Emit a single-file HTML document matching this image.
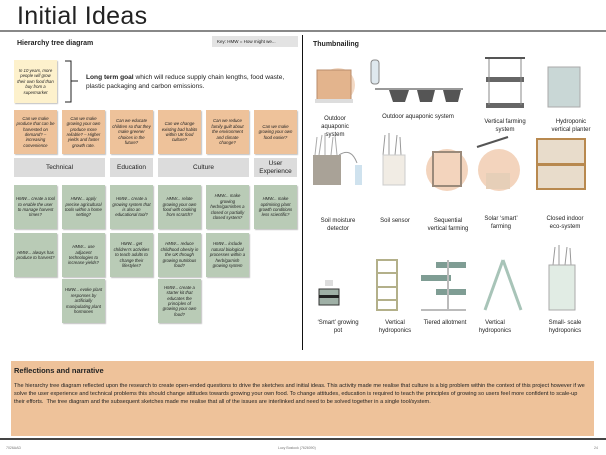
<!DOCTYPE html>
<html><head><meta charset="utf-8"><style>
*{margin:0;padding:0;box-sizing:border-box}
body{width:606px;height:455px;background:#fff;position:relative;overflow:hidden;font-family:"Liberation Sans",sans-serif;color:#222}
.a{position:absolute}
.n{position:absolute;width:43px;height:44px;font-size:4.3px;line-height:5.4px;font-style:italic;text-align:center;display:flex;align-items:center;justify-content:center;padding:2px;box-shadow:1px 1px 1px rgba(0,0,0,.25)}
.o{background:#eec29a}
.g{background:#b9cbb6}
.c{position:absolute;top:158px;height:19px;background:#dcdcdc;font-size:6.5px;display:flex;align-items:center;justify-content:center;text-align:center;line-height:8px}
.l{position:absolute;font-size:6px;text-align:center;line-height:8px;width:70px}
</style></head><body>
<div class="a" style="left:17px;top:2px;font-size:25px;letter-spacing:.3px">Initial Ideas</div>
<div class="a" style="left:0;top:30px;width:606px;height:1.5px;background:#888"></div>
<div class="a" style="left:302px;top:35px;width:1.2px;height:315px;background:#111"></div>
<div class="a" style="left:17px;top:40px;font-size:7px;font-weight:bold">Hierarchy tree diagram</div>
<div class="a" style="left:212px;top:36px;width:86px;height:11px;background:#e3e3e3;font-size:4.5px;line-height:11px;padding-left:5px">Key: HMW = How might we...</div>
<div class="n" style="left:14px;top:60px;height:43px;background:#fdf1cc">In 10 years, more people will grow their own food than buy from a supermarket</div>
<svg class="a" style="left:62px;top:60px" width="22" height="45"><path d="M3 1 H9 V42 H3 M9 21 H16" fill="none" stroke="#222" stroke-width="1"/></svg>
<div class="a" style="left:86px;top:73px;font-size:6.6px;line-height:9px;width:210px"><b>Long term goal</b> which will reduce supply chain lengths, food waste, plastic packaging and carbon emissions.</div>

<div class="n o" style="left:14px;top:110px">Can we make produce that can be harvested on demand? – increasing convenience</div>
<div class="n o" style="left:62px;top:110px">Can we make growing your own produce more reliable? – Higher yields and faster growth rate.</div>
<div class="n o" style="left:110px;top:110px">Can we educate children so that they make greener choices in the future?</div>
<div class="n o" style="left:158px;top:110px">Can we change existing bad habits within UK food culture?</div>
<div class="n o" style="left:206px;top:110px">Can we reduce family guilt about the environment and climate change?</div>
<div class="n o" style="left:254px;top:110px">Can we make growing your own food easier?</div>

<div class="c" style="left:14px;width:91px">Technical</div>
<div class="c" style="left:110px;width:43px">Education</div>
<div class="c" style="left:158px;width:91px">Culture</div>
<div class="c" style="left:254px;width:43px">User Experience</div>

<div class="n g" style="left:14px;top:185px">HMW... create a tool to enable the user to manage harvest times?</div>
<div class="n g" style="left:62px;top:185px">HMW... apply precise agricultural tools within a home setting?</div>
<div class="n g" style="left:110px;top:185px">HMW... create a growing system that is also an educational tool?</div>
<div class="n g" style="left:158px;top:185px">HMW... relate growing your own food with cooking from scratch?</div>
<div class="n g" style="left:206px;top:185px">HMW... make growing herbs/garnishes a closed or partially closed system?</div>
<div class="n g" style="left:254px;top:185px">HMW... make optimising plant growth conditions less scientific?</div>

<div class="n g" style="left:14px;top:233px">HMW... always has produce to harvest?</div>
<div class="n g" style="left:62px;top:233px">HMW... use adjacent technologies to increase yields?</div>
<div class="n g" style="left:110px;top:233px">HMW... get children's activities to teach adults to change their lifestyles?</div>
<div class="n g" style="left:158px;top:233px">HMW... reduce childhood obesity in the UK through growing nutritious food?</div>
<div class="n g" style="left:206px;top:233px">HMW... include natural biological processes within a herb/garnish growing system</div>

<div class="n g" style="left:62px;top:279px">HMW... evoke plant responses by artificially manipulating plant hormones</div>
<div class="n g" style="left:158px;top:279px">HMW... create a starter kit that educates the principles of growing your own food?</div>

<div class="a" style="left:313px;top:41px;font-size:7px;font-weight:bold">Thumbnailing</div>
<svg class="a" style="left:303px;top:55px" width="303" height="260">
<!-- row1 -->
<circle cx="35" cy="30" r="17" fill="#f3d9c4"/>
<rect x="14" y="15" width="34" height="30" fill="#e3b48d" stroke="#b98d6c"/><rect x="12" y="44" width="38" height="4" fill="#ddd"/>
<rect x="68" y="5" width="8" height="24" rx="3" fill="#dfe8ee" stroke="#888"/>
<path d="M72 34 H160" stroke="#999" stroke-width="2"/><path d="M86 35 h20 l-4 12 h-12z M114 35 h18 l-3 12 h-12z M140 35 h18 l-3 12 h-12z" fill="#555"/>
<rect x="182" y="2" width="40" height="2" fill="#555"/><rect x="183" y="22" width="38" height="5" fill="#666"/><rect x="183" y="48" width="38" height="5" fill="#666"/>
<path d="M186 4 V50 M218 4 V50" stroke="#888"/>
<rect x="245" y="12" width="32" height="40" fill="#c9d7d6" stroke="#aaa"/>
<!-- row2 -->
<path d="M12 100 l2 -18 M16 100 l3 -20 M22 100 l0 -22 M28 100 l2 -18 M34 100 l-2 -20" stroke="#aaa"/>
<rect x="10" y="100" width="28" height="30" fill="#a9a297"/><path d="M36 100 q12 -8 18 8" fill="none" stroke="#999"/><rect x="52" y="110" width="7" height="20" fill="#cfe2ee"/>
<path d="M80 100 l2 -20 M86 100 l0 -22 M92 100 l2 -20 M98 100 l-1 -18" stroke="#999"/>
<rect x="80" y="100" width="22" height="30" fill="#f1ece4" stroke="#ccc"/>
<circle cx="144" cy="115" r="21" fill="#f3d4bd"/><rect x="130" y="97" width="28" height="34" fill="none" stroke="#9b8a7a" stroke-width="2"/>
<circle cx="196" cy="115" r="21" fill="#f3d4bd"/><path d="M174 92 L205 82" stroke="#555" stroke-width="2"/><rect x="183" y="118" width="24" height="16" fill="#e6cfb8"/>
<rect x="234" y="84" width="48" height="50" fill="#e8dccb" stroke="#b8894f" stroke-width="2"/><rect x="234" y="108" width="48" height="3" fill="#b8894f"/>
<!-- row3 -->
<rect x="16" y="234" width="20" height="16" fill="#9fb0a6" stroke="#333"/><rect x="16" y="240" width="20" height="3" fill="#222"/><rect x="22" y="225" width="8" height="6" fill="#ddd"/>
<rect x="74" y="205" width="20" height="50" fill="none" stroke="#b3b08a" stroke-width="2"/><path d="M74 218 H94 M74 232 H94 M74 245 H94" stroke="#b3b08a" stroke-width="2"/>
<rect x="133" y="207" width="30" height="6" fill="#7f9d94"/><rect x="118" y="220" width="30" height="6" fill="#7f9d94"/><rect x="133" y="234" width="30" height="6" fill="#7f9d94"/>
<path d="M145 205 V255 M118 255 H163" stroke="#bbb" stroke-width="2"/>
<path d="M200 205 L182 255 M200 205 L218 255" stroke="#a8c4b8" stroke-width="3"/>
<path d="M250 210 l2 -18 M256 210 l0 -20 M262 210 l2 -18 M268 210 l-1 -17" stroke="#999"/>
<rect x="246" y="210" width="26" height="45" fill="#e1ece4" stroke="#aaa"/>
</svg>
<div class="l" style="left:300px;top:115px">Outdoor<br>aquaponic<br>system</div>
<div class="l" style="left:373px;top:113px;width:90px">Outdoor aquaponic system</div>
<div class="l" style="left:470px;top:118px">Vertical farming<br>system</div>
<div class="l" style="left:536px;top:118px">Hydroponic<br>vertical planter</div>
<div class="l" style="left:303px;top:217px">Soil moisture<br>detector</div>
<div class="l" style="left:372px;top:217px;width:46px">Soil sensor</div>
<div class="l" style="left:413px;top:217px">Sequential<br>vertical farming</div>
<div class="l" style="left:466px;top:215px">Solar ‘smart’<br>farming</div>
<div class="l" style="left:530px;top:215px">Closed indoor<br>eco-system</div>
<div class="l" style="left:303px;top:319px">‘Smart’ growing<br>pot</div>
<div class="l" style="left:360px;top:319px">Vertical<br>hydroponics</div>
<div class="l" style="left:410px;top:319px">Tiered allotment</div>
<div class="l" style="left:460px;top:319px">Vertical<br>hydroponics</div>
<div class="l" style="left:530px;top:319px">Small- scale<br>hydroponics</div>

<div class="a" style="left:11px;top:361px;width:583px;height:75px;background:#eec29a"></div>
<div class="a" style="left:14px;top:366px;font-size:7.5px;font-weight:bold">Reflections and narrative</div>
<div class="a" style="left:14px;top:382px;width:575px;font-size:5.6px;line-height:8px">The hierarchy tree diagram reflected upon the research to create open-ended questions to drive the sketches and initial ideas. This activity made me realise that culture is a big problem within the context of this project however if we solve the user experience and technical problems this should change attitudes towards growing your own food. To change attitudes, education is required to teach the principles of growing so users feel more confident to scale-up their efforts.&nbsp; The tree diagram and the subsequent sketches made me realise that all of the issues are interlinked and need to be solved together in a single tool/system.</div>
<div class="a" style="left:0;top:438px;width:606px;height:1.5px;background:#444"></div>
<div class="a" style="left:6px;top:446px;font-size:3.5px;color:#777">7026AAD</div>
<div class="a" style="left:278px;top:446px;font-size:3.5px;color:#777">Lucy Bostock (7626090)</div>
<div class="a" style="left:594px;top:446px;font-size:3.5px;color:#777">24</div>
</body></html>
